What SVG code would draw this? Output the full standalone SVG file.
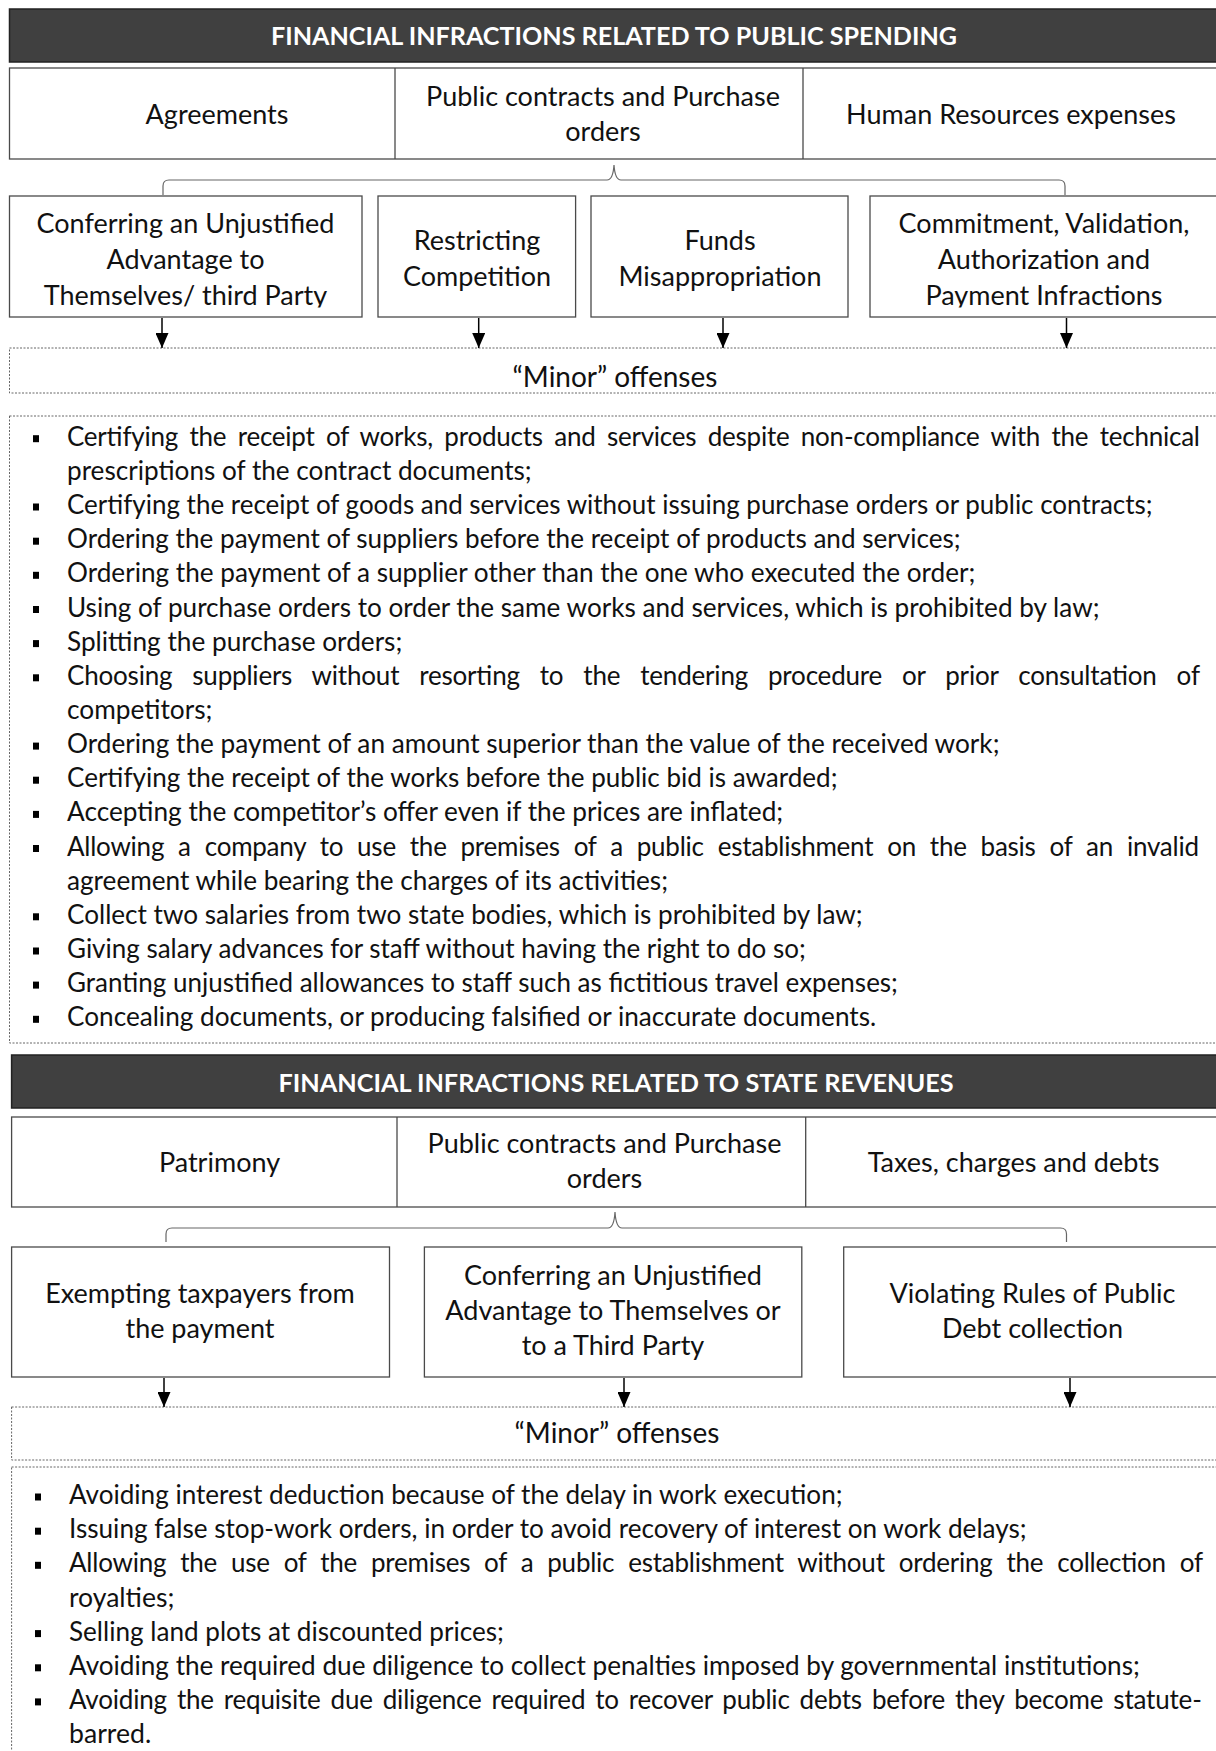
<svg xmlns="http://www.w3.org/2000/svg" width="1216" height="1751" viewBox="0 0 1216 1751">
<defs>
<style>
.hdr{fill:#404040;stroke:#222;stroke-width:1.5}
.hdrt{font-family:Lato,"Open Sans","Liberation Sans",sans-serif;font-weight:bold;font-size:24px;fill:#fff;text-anchor:middle}
.box{fill:#fff;stroke:#4a4a4a;stroke-width:1.3}
.ln{stroke:#4a4a4a;stroke-width:1.3}
.dot{fill:#fff;stroke:#666;stroke-width:1;stroke-dasharray:2 1.5}
.t{font-family:Lato,"Open Sans","Liberation Sans",sans-serif;font-size:26px;fill:#111}
.b{font-family:Lato,"Open Sans","Liberation Sans",sans-serif;font-size:27px;fill:#111;text-anchor:middle}
.m{font-family:Lato,"Open Sans","Liberation Sans",sans-serif;font-size:28px;fill:#111;text-anchor:middle}
.brk{fill:none;stroke:#666;stroke-width:1.2}
.arr{stroke:#000;stroke-width:1.5;marker-end:url(#ah)}
.bul{fill:#000}
</style>
<marker id="ah" markerUnits="userSpaceOnUse" markerWidth="15" markerHeight="13" viewBox="0 0 15 13" refX="15" refY="6.5" orient="auto">
<path d="M0,0 L15,6.5 L0,13 z" fill="#000"/>
</marker>
<clipPath id="clipTop"><rect x="0" y="0" width="1216" height="307.5"/></clipPath>
</defs>
<rect width="1216" height="1751" fill="#fff"/>

<!-- ============ SECTION 1 ============ -->
<g id="header-spending">
<rect class="hdr" x="9.5" y="9" width="1215" height="53"/>
<text class="hdrt" x="614" y="45" textLength="686" lengthAdjust="spacingAndGlyphs">FINANCIAL INFRACTIONS RELATED TO PUBLIC SPENDING</text>
</g>

<g id="row-spending">
<rect class="box" x="9.5" y="68" width="1215" height="91"/>
<line class="ln" x1="395" y1="68" x2="395" y2="159"/>
<line class="ln" x1="803" y1="68" x2="803" y2="159"/>
</g>
<g id="cat-agreements"><text class="b" x="217" y="124">Agreements</text></g>
<g id="cat-public-contracts-1"><text class="b" x="603" y="106">Public contracts and Purchase</text><text class="b" x="603" y="141">orders</text></g>
<g id="cat-hr"><text class="b" x="1011" y="124">Human Resources expenses</text></g>

<g id="box-advantage-1">
<rect class="box" x="9.5" y="196" width="352.5" height="121"/>
<g clip-path="url(#clipTop)">
<text class="b" x="185.5" y="233">Conferring an Unjustified</text>
<text class="b" x="185.5" y="269">Advantage to</text>
<text class="b" x="185.5" y="305">Themselves/ third Party</text>
</g>
</g>
<g id="box-restricting">
<rect class="box" x="378" y="196" width="197.6" height="121"/>
<text class="b" x="477" y="250">Restricting</text>
<text class="b" x="477" y="286">Competition</text>
</g>
<g id="box-funds">
<rect class="box" x="591" y="196" width="257" height="121"/>
<text class="b" x="720" y="250">Funds</text>
<text class="b" x="720" y="286">Misappropriation</text>
</g>
<g id="box-commitment">
<rect class="box" x="870" y="196" width="360" height="121"/>
<g clip-path="url(#clipTop)">
<text class="b" x="1044" y="233">Commitment, Validation,</text>
<text class="b" x="1044" y="269">Authorization and</text>
<text class="b" x="1044" y="305">Payment Infractions</text>
</g>
</g>

<g id="minor-spending">
<rect class="dot" x="9.5" y="348" width="1215" height="45"/>
<text class="m" x="615" y="387">“Minor” offenses</text>
</g>

<g id="list-spending">
<rect class="dot" x="9.5" y="416" width="1215" height="627"/>
<g class="bul">
<rect x="33" y="435.2" width="6" height="7"/>
<rect x="33" y="503.5" width="6" height="7"/>
<rect x="33" y="537.7" width="6" height="7"/>
<rect x="33" y="571.8" width="6" height="7"/>
<rect x="33" y="606" width="6" height="7"/>
<rect x="33" y="640.1" width="6" height="7"/>
<rect x="33" y="674.3" width="6" height="7"/>
<rect x="33" y="742.6" width="6" height="7"/>
<rect x="33" y="776.7" width="6" height="7"/>
<rect x="33" y="810.9" width="6" height="7"/>
<rect x="33" y="845" width="6" height="7"/>
<rect x="33" y="913.3" width="6" height="7"/>
<rect x="33" y="947.5" width="6" height="7"/>
<rect x="33" y="981.6" width="6" height="7"/>
<rect x="33" y="1015.8" width="6" height="7"/>
</g>
<text class="t" x="67" y="445.7" word-spacing="5" textLength="1133" lengthAdjust="spacing">Certifying the receipt of works, products and services despite non-compliance with the technical</text>
<text class="t" x="67" y="479.9" textLength="464.7" lengthAdjust="spacingAndGlyphs">prescriptions of the contract documents;</text>
<text class="t" x="67" y="514" textLength="1085.6" lengthAdjust="spacingAndGlyphs">Certifying the receipt of goods and services without issuing purchase orders or public contracts;</text>
<text class="t" x="67" y="548.2" textLength="893.7" lengthAdjust="spacingAndGlyphs">Ordering the payment of suppliers before the receipt of products and services;</text>
<text class="t" x="67" y="582.3" textLength="908.4" lengthAdjust="spacingAndGlyphs">Ordering the payment of a supplier other than the one who executed the order;</text>
<text class="t" x="67" y="616.5" textLength="1032.5" lengthAdjust="spacingAndGlyphs">Using of purchase orders to order the same works and services, which is prohibited by law;</text>
<text class="t" x="67" y="650.6" textLength="335.3" lengthAdjust="spacingAndGlyphs">Splitting the purchase orders;</text>
<text class="t" x="67" y="684.8" word-spacing="13.5" textLength="1133" lengthAdjust="spacing">Choosing suppliers without resorting to the tendering procedure or prior consultation of</text>
<text class="t" x="67" y="718.9" textLength="145.4" lengthAdjust="spacingAndGlyphs">competitors;</text>
<text class="t" x="67" y="753.1" textLength="932.5" lengthAdjust="spacingAndGlyphs">Ordering the payment of an amount superior than the value of the received work;</text>
<text class="t" x="67" y="787.2" textLength="770.5" lengthAdjust="spacingAndGlyphs">Certifying the receipt of the works before the public bid is awarded;</text>
<text class="t" x="67" y="821.4" textLength="716.2" lengthAdjust="spacingAndGlyphs">Accepting the competitor’s offer even if the prices are inflated;</text>
<text class="t" x="67" y="855.5" word-spacing="7.5" textLength="1132" lengthAdjust="spacing">Allowing a company to use the premises of a public establishment on the basis of an invalid</text>
<text class="t" x="67" y="889.7" textLength="601" lengthAdjust="spacingAndGlyphs">agreement while bearing the charges of its activities;</text>
<text class="t" x="67" y="923.8" textLength="795.7" lengthAdjust="spacingAndGlyphs">Collect two salaries from two state bodies, which is prohibited by law;</text>
<text class="t" x="67" y="958" textLength="738.7" lengthAdjust="spacingAndGlyphs">Giving salary advances for staff without having the right to do so;</text>
<text class="t" x="67" y="992.1" textLength="830.9" lengthAdjust="spacingAndGlyphs">Granting unjustified allowances to staff such as fictitious travel expenses;</text>
<text class="t" x="67" y="1026.3" textLength="809.2" lengthAdjust="spacingAndGlyphs">Concealing documents, or producing falsified or inaccurate documents.</text>
</g>

<!-- ============ SECTION 2 ============ -->
<g id="header-revenues">
<rect class="hdr" x="11.6" y="1055" width="1215" height="53"/>
<text class="hdrt" x="616" y="1092" textLength="675" lengthAdjust="spacingAndGlyphs">FINANCIAL INFRACTIONS RELATED TO STATE REVENUES</text>
</g>

<g id="row-revenues">
<rect class="box" x="11.6" y="1117" width="1215" height="90"/>
<line class="ln" x1="397" y1="1117" x2="397" y2="1207"/>
<line class="ln" x1="805.7" y1="1117" x2="805.7" y2="1207"/>
</g>
<g id="cat-patrimony"><text class="b" x="219.5" y="1172">Patrimony</text></g>
<g id="cat-public-contracts-2"><text class="b" x="604.5" y="1153">Public contracts and Purchase</text><text class="b" x="604.5" y="1188">orders</text></g>
<g id="cat-taxes"><text class="b" x="1013.6" y="1172">Taxes, charges and debts</text></g>

<g id="box-exempting">
<rect class="box" x="11.6" y="1247" width="377.9" height="130"/>
<text class="b" x="200" y="1303">Exempting taxpayers from</text>
<text class="b" x="200" y="1338">the payment</text>
</g>
<g id="box-advantage-2">
<rect class="box" x="424.4" y="1247" width="377.4" height="130"/>
<text class="b" x="613" y="1285">Conferring an Unjustified</text>
<text class="b" x="613" y="1320">Advantage to Themselves or</text>
<text class="b" x="613" y="1355">to a Third Party</text>
</g>
<g id="box-debt">
<rect class="box" x="843.7" y="1247" width="390" height="130"/>
<text class="b" x="1032.5" y="1303">Violating Rules of Public</text>
<text class="b" x="1032.5" y="1338">Debt collection</text>
</g>

<g id="minor-revenues">
<rect class="dot" x="11.6" y="1407" width="1215" height="53"/>
<text class="m" x="617" y="1443">“Minor” offenses</text>
</g>

<g id="list-revenues">
<rect class="dot" x="11.6" y="1467" width="1215" height="300"/>
<g class="bul">
<rect x="35" y="1493.5" width="6" height="7"/>
<rect x="35" y="1527.7" width="6" height="7"/>
<rect x="35" y="1561.8" width="6" height="7"/>
<rect x="35" y="1630.1" width="6" height="7"/>
<rect x="35" y="1664.3" width="6" height="7"/>
<rect x="35" y="1698.4" width="6" height="7"/>
</g>
<text class="t" x="69" y="1504" textLength="773.5" lengthAdjust="spacingAndGlyphs">Avoiding interest deduction because of the delay in work execution;</text>
<text class="t" x="69" y="1538.2" textLength="957.6" lengthAdjust="spacingAndGlyphs">Issuing false stop-work orders, in order to avoid recovery of interest on work delays;</text>
<text class="t" x="69" y="1572.3" word-spacing="7.5" textLength="1134" lengthAdjust="spacing">Allowing the use of the premises of a public establishment without ordering the collection of</text>
<text class="t" x="69" y="1606.5" textLength="105.4" lengthAdjust="spacingAndGlyphs">royalties;</text>
<text class="t" x="69" y="1640.6" textLength="434.9" lengthAdjust="spacingAndGlyphs">Selling land plots at discounted prices;</text>
<text class="t" x="69" y="1674.8" textLength="1070.8" lengthAdjust="spacingAndGlyphs">Avoiding the required due diligence to collect penalties imposed by governmental institutions;</text>
<text class="t" x="69" y="1708.9" word-spacing="3.5" textLength="1132.8" lengthAdjust="spacing">Avoiding the requisite due diligence required to recover public debts before they become statute-</text>
<text class="t" x="69" y="1743.1" textLength="82.2" lengthAdjust="spacingAndGlyphs">barred.</text>
</g>

<!-- ============ CONNECTORS ============ -->
<g id="connectors">
<path class="brk" d="M163,195 L163,186 Q163,180 169,180 L607,180 Q613,180 614,165 Q615,180 621,180 L1059,180 Q1065,180 1065,186 L1065,195"/>
<line class="arr" x1="162" y1="318" x2="162" y2="348"/>
<line class="arr" x1="478.7" y1="318" x2="478.7" y2="348"/>
<line class="arr" x1="723" y1="318" x2="723" y2="348"/>
<line class="arr" x1="1066.5" y1="318" x2="1066.5" y2="348"/>
<path class="brk" d="M166,1242 L166,1234 Q166,1228 172,1228 L608,1228 Q614,1228 615,1212 Q616,1228 622,1228 L1060.5,1228 Q1066.5,1228 1066.5,1234 L1066.5,1242"/>
<line class="arr" x1="164" y1="1378" x2="164" y2="1407"/>
<line class="arr" x1="624" y1="1378" x2="624" y2="1407"/>
<line class="arr" x1="1070" y1="1378" x2="1070" y2="1407"/>
</g>
</svg>
